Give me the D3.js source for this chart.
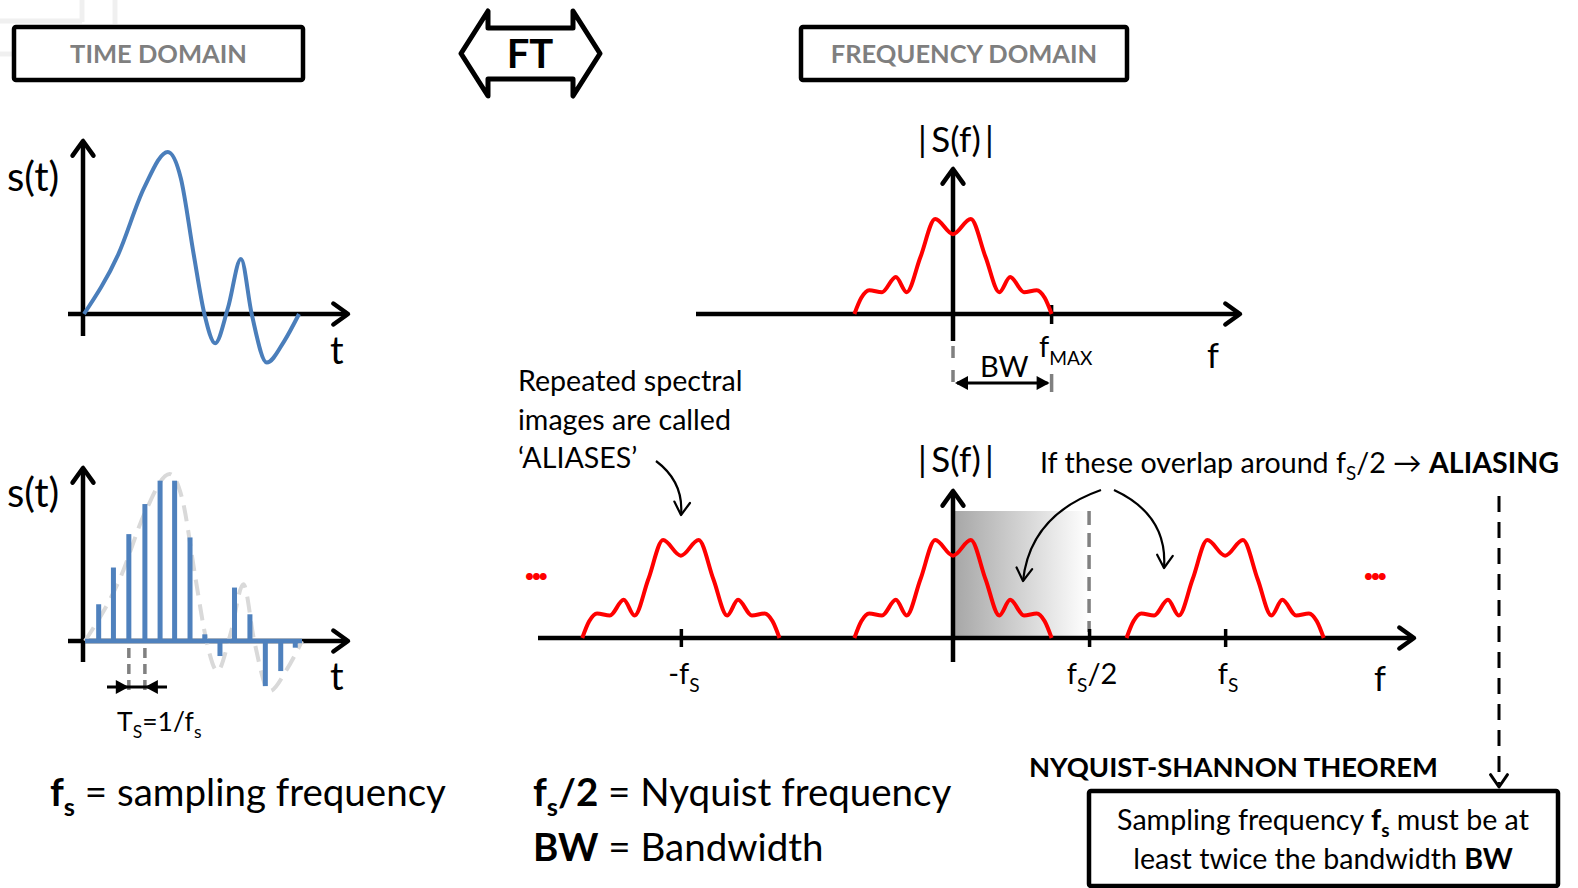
<!DOCTYPE html>
<html lang="en">
<head>
<meta charset="utf-8">
<title>Sampling and aliasing</title>
<script src="https://d3js.org/d3.v7.min.js"></script>
<style>
    body { margin: 0; background: #fff; }
    svg text { font-family: Lato, "Open Sans", sans-serif; fill: #000; }
    .hdr { font-weight: bold; fill: #7f7f7f; }
</style>
</head>
<body>
<div id="chart"></div>
<script>
    // continuous signal s(t) (t in 0..10, s relative to its peak)
    var sigT = [0, 1.6, 2.8, 3.9, 4.5, 5.1, 5.6, 6.1, 6.7, 7.3, 7.8, 8.5, 9.3, 10];
    var sigS = [0, 0.37, 0.78, 1.0, 0.84, 0.37, 0, -0.18, 0.04, 0.34, 0, -0.30, -0.17, 0];

    // sampled values (the blue stems)
    var sampT = [0.63, 1.31, 2.02, 2.76, 3.46, 4.13, 4.84, 5.52, 6.22, 6.89, 7.6, 8.31, 9.02, 9.69];
    var sampS = [0.22, 0.44, 0.64, 0.82, 0.96, 0.96, 0.62, 0.04, -0.09, 0.32, 0.16, -0.27, -0.18, -0.04];

    // |S(f)| shape, f in units of fMAX
    var specF = [-1, -0.93, -0.85, -0.72, -0.58, -0.47, -0.33, -0.18, 0, 0.18, 0.33, 0.47, 0.58, 0.72, 0.85, 0.93, 1];
    var specA = [0, 0.17, 0.25, 0.23, 0.39, 0.23, 0.6, 1.0, 0.84, 1.0, 0.6, 0.23, 0.39, 0.23, 0.25, 0.17, 0];

    var FS = 2.76;                       // sampling frequency in units of fMAX
    var aliasShifts = [-FS, 0, FS];
    var freqTicks = [-FS, FS / 2, FS];
    var freqTickLabels = [["-f", "S", ""], ["f", "S", "/2"], ["f", "S", ""]];

    var W = 1578, H = 888;
    var svg = d3.select("#chart").append("svg")
        .attr("width", W)
        .attr("height", H);

    svg.append("rect").attr("width", W).attr("height", H).attr("fill", "#fff");

    var defs = svg.append("defs");
    var grad = defs.append("linearGradient").attr("id", "shade")
        .attr("x1", "0%").attr("x2", "100%").attr("y1", "0%").attr("y2", "0%");
    grad.append("stop").attr("offset", "0%").attr("stop-color", "#a6a6a6");
    grad.append("stop").attr("offset", "100%").attr("stop-color", "#ffffff");

    // faint leftover grid in the corner
    var faint = svg.append("g").attr("stroke", "#f0f0f0").attr("stroke-width", 5);
    faint.append("line").attr("x1", 82).attr("x2", 82).attr("y1", 0).attr("y2", 22);
    faint.append("line").attr("x1", 115).attr("x2", 115).attr("y1", 0).attr("y2", 24);
    faint.append("line").attr("x1", 0).attr("x2", 82).attr("y1", 21).attr("y2", 21);
    faint.append("line").attr("x1", 0).attr("x2", 12).attr("y1", 54).attr("y2", 54);

    // helpers
    function chevron(g, x, y, angle, len, spread, width) {
        // open arrow head, tip at x,y, pointing toward angle (radians)
        var a1 = angle + Math.PI - spread, a2 = angle + Math.PI + spread;
        g.append("path")
            .attr("d", "M" + (x + len * Math.cos(a1)) + "," + (y + len * Math.sin(a1)) +
                "L" + x + "," + y +
                "L" + (x + len * Math.cos(a2)) + "," + (y + len * Math.sin(a2)))
            .attr("fill", "none").attr("stroke", "#000")
            .attr("stroke-width", width).attr("stroke-linecap", "round").attr("stroke-linejoin", "round");
    }

    function solidHead(g, x, y, dir, color) {
        // filled triangle head, dir = +1 points right, -1 points left
        g.append("path")
            .attr("d", "M" + x + "," + y + "L" + (x - dir * 13) + "," + (y - 7) + "L" + (x - dir * 13) + "," + (y + 7) + "Z")
            .attr("fill", color || "#000");
    }

    function axes(g, ox, oy, xl, xr, yt, yb) {
        g.append("line").attr("x1", xl).attr("x2", xr - 2).attr("y1", oy).attr("y2", oy)
            .attr("stroke", "#000").attr("stroke-width", 4.5);
        g.append("line").attr("x1", ox).attr("x2", ox).attr("y1", yb).attr("y2", yt + 2)
            .attr("stroke", "#000").attr("stroke-width", 4.5);
        chevron(g, xr, oy, 0, 18, 0.62, 4.5);
        chevron(g, ox, yt, -Math.PI / 2, 18, 0.62, 4.5);
    }

    // text with subscripts: parts = [[text, bold, sub], ...]
    function rich(g, x, y, size, parts, anchor) {
        var t = g.append("text").attr("x", x).attr("y", y)
            .attr("font-size", size).attr("text-anchor", anchor || "start");
        var shift = 0;
        parts.forEach(function (p) {
            var want = p[2] ? Math.round(size * 0.26) : 0;
            t.append("tspan").text(p[0])
                .attr("dy", want - shift)
                .attr("font-size", p[2] ? size * 0.66 : size)
                .attr("font-weight", p[1] ? "bold" : "normal");
            shift = want;
        });
        return t;
    }

    function box(g, x, y, w, h, label) {
        g.append("rect").attr("x", x).attr("y", y).attr("width", w).attr("height", h)
            .attr("rx", 2).attr("fill", "#fff").attr("stroke", "#000").attr("stroke-width", 4.5);
        if (label) {
            g.append("text").attr("class", "hdr").attr("x", x + w / 2).attr("y", y + h / 2 + 9)
                .attr("text-anchor", "middle").attr("font-size", 25.5).text(label);
        }
    }

    // headers
    box(svg, 14, 27, 289, 53, "TIME DOMAIN");
    box(svg, 801, 27, 326, 53, "FREQUENCY DOMAIN");

    // FT double arrow
    svg.append("path")
        .attr("d", "M461,53.5 L488,11 L488,28 L573,28 L573,11 L600,53.5 L573,96 L573,79 L488,79 L488,96 Z")
        .attr("fill", "#fff").attr("stroke", "#000").attr("stroke-width", 5).attr("stroke-linejoin", "round");
    svg.append("text").attr("x", 530).attr("y", 68).attr("text-anchor", "middle")
        .attr("font-size", 40).attr("font-weight", "bold").text("FT");

    // ---------- time domain: continuous ----------
    var gT1 = svg.append("g");
    var xT1 = d3.scaleLinear().domain([0, 10]).range([84, 299]);
    var yT1 = d3.scaleLinear().domain([0, 1]).range([314, 152]);
    axes(gT1, 83, 314, 68, 348, 141, 336);

    var sig = sigT.map(function (t, i) { return [t, sigS[i]]; });
    gT1.append("path")
        .attr("d", d3.line().x(function (d) { return xT1(d[0]); }).y(function (d) { return yT1(d[1]); })
            .curve(d3.curveMonotoneX)(sig))
        .attr("fill", "none").attr("stroke", "#4a7ebb").attr("stroke-width", 4);

    gT1.append("text").attr("x", 7).attr("y", 191).attr("font-size", 40).text("s(t)");
    gT1.append("text").attr("x", 330).attr("y", 364).attr("font-size", 38).text("t");

    // ---------- time domain: sampled ----------
    var gT2 = svg.append("g");
    var xT2 = d3.scaleLinear().domain([0, 10]).range([85, 302]);
    var yT2 = d3.scaleLinear().domain([0, 1]).range([641, 474]);
    axes(gT2, 83, 641, 68, 348, 468, 662);

    gT2.append("path")
        .attr("d", d3.line().x(function (d) { return xT2(d[0]); }).y(function (d) { return yT2(d[1]); })
            .curve(d3.curveMonotoneX)(sig))
        .attr("fill", "none").attr("stroke", "#d9d9d9").attr("stroke-width", 4)
        .attr("stroke-dasharray", "16,9");

    gT2.append("line").attr("x1", xT2(0)).attr("x2", xT2(10)).attr("y1", yT2(0)).attr("y2", yT2(0))
        .attr("stroke", "#4f81bd").attr("stroke-width", 4.5);

    gT2.selectAll(".stem").data(sampT).enter().append("rect")
        .attr("class", "stem")
        .attr("x", function (d) { return xT2(d) - 2.5; })
        .attr("width", 5)
        .attr("y", function (d, i) { return Math.min(yT2(sampS[i]), yT2(0)); })
        .attr("height", function (d, i) { return Math.abs(yT2(sampS[i]) - yT2(0)); })
        .attr("fill", "#4f81bd");

    gT2.append("text").attr("x", 7).attr("y", 507).attr("font-size", 40).text("s(t)");
    gT2.append("text").attr("x", 330).attr("y", 690).attr("font-size", 38).text("t");

    // sampling period marker between samples 3 and 4
    var ts0 = xT2(sampT[2]), ts1 = xT2(sampT[3]);
    [ts0, ts1].forEach(function (x) {
        gT2.append("line").attr("x1", x).attr("x2", x).attr("y1", 648).attr("y2", 694)
            .attr("stroke", "#808080").attr("stroke-width", 3.5).attr("stroke-dasharray", "10,6");
    });
    gT2.append("line").attr("x1", 107).attr("x2", 167).attr("y1", 687).attr("y2", 687)
        .attr("stroke", "#000").attr("stroke-width", 3);
    solidHead(gT2, ts0, 687, 1);
    solidHead(gT2, ts1, 687, -1);
    rich(gT2, 117, 731, 26.5, [["T"], ["S", false, true], ["=1/f"], ["s", false, true]]);

    // ---------- frequency domain ----------
    var xF = d3.scaleLinear().domain([0, 1]).range([953, 1051.6]);
    var spec = specF.map(function (f, i) { return [f, specA[i]]; });

    // top spectrum
    var gF1 = svg.append("g");
    var yF1 = d3.scaleLinear().domain([0, 1]).range([314, 219]);
    gF1.append("line").attr("x1", xF(0)).attr("x2", xF(0)).attr("y1", 346).attr("y2", 392)
        .attr("stroke", "#808080").attr("stroke-width", 3.5).attr("stroke-dasharray", "12,12");
    gF1.append("line").attr("x1", xF(1)).attr("x2", xF(1)).attr("y1", 374).attr("y2", 392)
        .attr("stroke", "#808080").attr("stroke-width", 3.5);
    axes(gF1, xF(0), 314, 696, 1240, 169, 341);
    gF1.append("line").attr("x1", xF(1)).attr("x2", xF(1)).attr("y1", 305).attr("y2", 324)
        .attr("stroke", "#000").attr("stroke-width", 3.5);
    gF1.append("path")
        .attr("d", d3.line().x(function (d) { return xF(d[0]); }).y(function (d) { return yF1(d[1]); })
            .curve(d3.curveMonotoneX)(spec))
        .attr("fill", "none").attr("stroke", "#ff0000").attr("stroke-width", 4);

    gF1.append("text").attr("x", 956).attr("y", 152).attr("text-anchor", "middle").attr("font-size", 35)
        .text("|\u2009S(f)\u2009|");
    rich(gF1, 1039, 357, 29, [["f"], ["MAX", false, true]]);
    gF1.append("text").attr("x", 1207).attr("y", 368).attr("font-size", 34).text("f");

    // BW arrow
    gF1.append("line").attr("x1", xF(0) + 4).attr("x2", xF(1) - 4).attr("y1", 383).attr("y2", 383)
        .attr("stroke", "#000").attr("stroke-width", 3);
    solidHead(gF1, xF(0) + 2, 383, -1);
    solidHead(gF1, xF(1) - 2, 383, 1);
    gF1.append("text").attr("x", xF(0.52)).attr("y", 377).attr("text-anchor", "middle").attr("font-size", 29).text("BW");

    // bottom spectrum with aliases
    var gF2 = svg.append("g");
    var yF2 = d3.scaleLinear().domain([0, 1]).range([638, 540]);

    gF2.append("rect").attr("x", xF(0)).attr("y", 511)
        .attr("width", xF(FS / 2) - xF(0)).attr("height", yF2(0) - 511)
        .attr("fill", "url(#shade)");
    gF2.append("line").attr("x1", xF(FS / 2)).attr("x2", xF(FS / 2)).attr("y1", 511).attr("y2", 632)
        .attr("stroke", "#808080").attr("stroke-width", 3.5).attr("stroke-dasharray", "14,8");

    axes(gF2, xF(0), 638, 538, 1414, 491, 662);

    var tickAxis = gF2.append("g").attr("transform", "translate(0,638)")
        .call(d3.axisBottom(xF).tickValues(freqTicks).tickSize(9).tickFormat(""));
    tickAxis.select(".domain").remove();
    tickAxis.selectAll(".tick line").attr("y1", -9).attr("stroke", "#000").attr("stroke-width", 3.5);

    gF2.selectAll(".alias").data(aliasShifts).enter().append("path")
        .attr("class", "alias")
        .attr("d", function (s) {
            return d3.line().x(function (d) { return xF(d[0] + s); }).y(function (d) { return yF2(d[1]); })
                .curve(d3.curveMonotoneX)(spec);
        })
        .attr("fill", "none").attr("stroke", "#ff0000").attr("stroke-width", 4);

    freqTicks.forEach(function (f, i) {
        var lb = freqTickLabels[i];
        rich(gF2, xF(f) + 3, 684, 29, [[lb[0]], [lb[1], false, true], [lb[2]]], "middle");
    });
    gF2.append("text").attr("x", 1374).attr("y", 691).attr("font-size", 34).text("f");
    gF2.append("text").attr("x", 956).attr("y", 472).attr("text-anchor", "middle").attr("font-size", 35)
        .text("|\u2009S(f)\u2009|");

    gF2.append("text").attr("x", 524).attr("y", 580).attr("font-size", 46).attr("font-weight", "bold")
        .style("fill", "#ff0000").attr("letter-spacing", -4).text("...");
    gF2.append("text").attr("x", 1363).attr("y", 580).attr("font-size", 46).attr("font-weight", "bold")
        .style("fill", "#ff0000").attr("letter-spacing", -4).text("...");

    // annotations
    var ann = svg.append("g");
    ["Repeated spectral", "images are called", "\u2018ALIASES\u2019"].forEach(function (s, i) {
        ann.append("text").attr("x", 518).attr("y", 391 + i * 38.5).attr("font-size", 28.6).text(s);
    });

    function curvedArrow(x0, y0, cx, cy, x1, y1) {
        ann.append("path").attr("d", "M" + x0 + "," + y0 + "Q" + cx + "," + cy + " " + x1 + "," + y1)
            .attr("fill", "none").attr("stroke", "#000").attr("stroke-width", 2.2);
        chevron(ann, x1, y1, Math.atan2(y1 - cy, x1 - cx), 15, 0.55, 2.2);
    }
    curvedArrow(656, 461, 684, 482, 681, 515);
    curvedArrow(1101, 490, 1030, 515, 1023, 581);
    curvedArrow(1114, 490, 1168, 515, 1164, 568);

    rich(ann, 1040, 473, 28.6, [["If these overlap around f"], ["S", false, true], ["/2 \u2192 "], ["ALIASING", true]]);

    ann.append("line").attr("x1", 1499).attr("x2", 1499).attr("y1", 496).attr("y2", 784)
        .attr("stroke", "#000").attr("stroke-width", 3).attr("stroke-dasharray", "16,10");
    chevron(ann, 1499, 787, Math.PI / 2, 15, 0.6, 3);

    ann.append("text").attr("x", 1029).attr("y", 777).attr("font-size", 27.4).attr("font-weight", "bold")
        .text("NYQUIST-SHANNON THEOREM");

    box(ann, 1089, 791, 469, 95);
    rich(ann, 1323, 830, 28.6, [["Sampling frequency "], ["f", true], ["s", true, true], [" must be at"]], "middle");
    rich(ann, 1323, 869, 28.6, [["least twice the bandwidth "], ["BW", true]], "middle");

    // definitions at the bottom
    rich(ann, 50, 806, 38.5, [["f", true], ["s", true, true], [" = sampling frequency"]]);
    rich(ann, 533, 806, 38.5, [["f", true], ["s", true, true], ["/2", true], [" = Nyquist frequency"]]);
    rich(ann, 533, 861, 38.5, [["BW", true], [" = Bandwidth"]]);
</script>
</body>
</html>
